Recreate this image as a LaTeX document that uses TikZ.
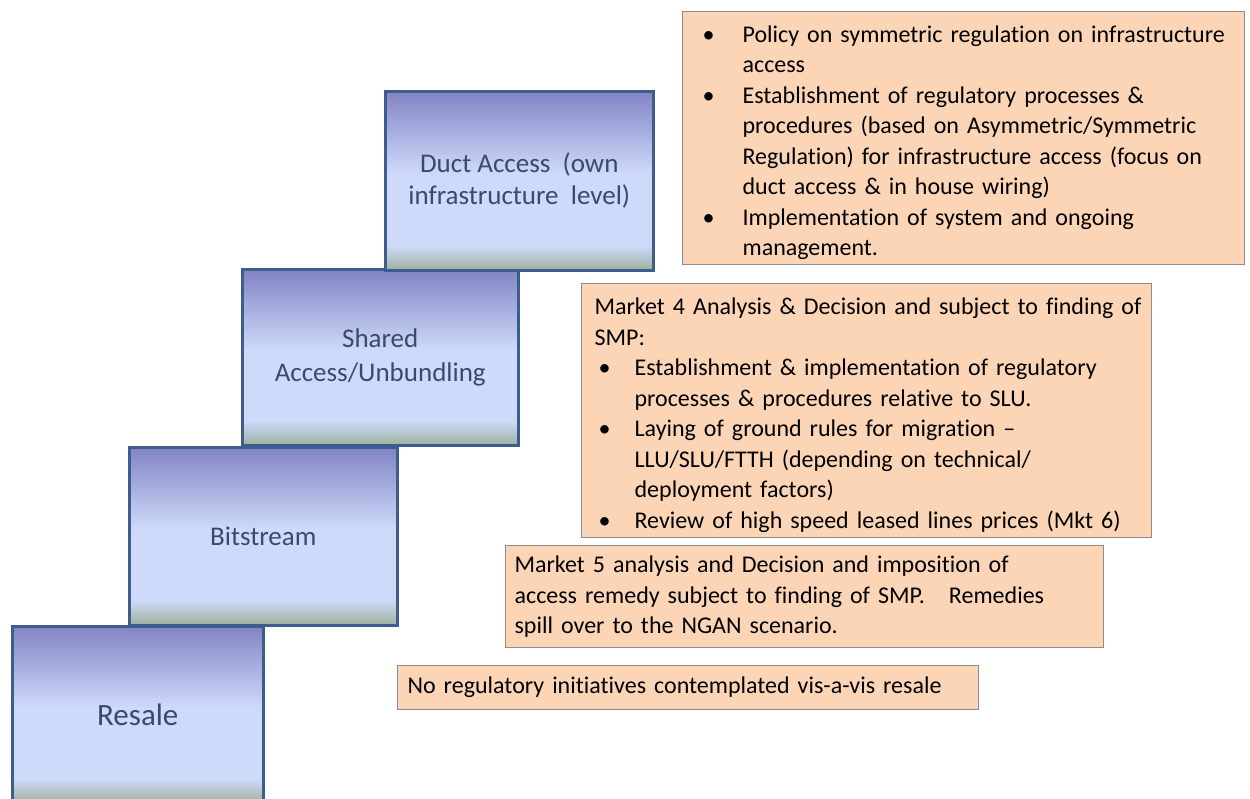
\documentclass[tikz,border=0pt]{standalone}
\usepackage{fontspec}
\setmainfont{Carlito}[Ligatures=NoCommon]
\usetikzlibrary{positioning}

\definecolor{stairtop}{RGB}{130,132,196}
\definecolor{stairmid}{RGB}{206,218,250}
\definecolor{stairbot}{RGB}{158,176,158}
\definecolor{stairedge}{RGB}{62,92,140}
\definecolor{stairtext}{RGB}{58,74,108}
\definecolor{notefill}{RGB}{251,213,182}
\definecolor{noteedge}{RGB}{140,140,140}

\pgfdeclareverticalshading{stairshade}{100bp}{color(0bp)=(stairbot); color(25bp)=(stairbot); color(32bp)=(stairmid); color(52bp)=(stairmid); color(75bp)=(stairtop); color(100bp)=(stairtop)}

% bullets and hanging indent of the two long notes
\newcommand{\bul}{\makebox[56pt][l]{\hspace{16pt}\textbullet}}
\newcommand{\ind}{\hspace*{56pt}}
\newcommand{\sbul}{\makebox[49pt][l]{\hspace{13pt}\textbullet}}
\newcommand{\sind}{\hspace*{49pt}}

\begin{document}
\begin{tikzpicture}[
            x=1pt, y=-1pt,
            stair/.style={draw=stairedge, line width=2.5pt, shading=stairshade,
                anchor=north west, inner sep=0pt, align=center, text=stairtext,
                font=\fontsize{27}{32}\selectfont},
            note/.style={draw=noteedge, line width=1.2pt, fill=notefill,
                anchor=north west, align=left, inner ysep=0pt, inner xsep=4pt,
                font=\fontsize{24}{30.5}\selectfont},
        ]
            \useasboundingbox (0,0) rectangle (1250,798);

            \node[stair, minimum width=251pt, minimum height=177pt,
                font=\fontsize{31}{36}\selectfont] (resale) at (11,625) {Resale};
            \node[stair, minimum width=268pt, minimum height=178pt] (bitstream) at (128,446) {Bitstream};
            \node[stair, minimum width=276pt, minimum height=176pt] (shared) at (241,268) {Shared\\[2pt]Access/Unbundling};
            \node[stair, minimum width=268pt, minimum height=179pt] (duct) at (384,90) {Duct Access\ \ (own\\infrastructure\ \ level)};

            \node[note, text width=554pt, text height=26pt, minimum height=253pt] (ductnote) at (682,11) {
                \bul Policy on symmetric regulation on infrastructure\\
                \ind access\\
                \bul Establishment of regulatory processes \&\\
                \ind procedures (based on Asymmetric/Symmetric\\
                \ind Regulation) for infrastructure access (focus on\\
                \ind duct access \& in house wiring)\\
                \bul Implementation of system and ongoing\\
                \ind management.};
            \node[note, text width=562pt, text height=26pt, minimum height=254pt] (sharednote) at (581,283) {
                \hspace*{9pt}Market 4 Analysis \& Decision and subject to finding of\\
                \hspace*{9pt}SMP:\\
                \sbul Establishment \& implementation of regulatory\\
                \sind processes \& procedures relative to SLU.\\
                \sbul Laying of ground rules for migration --\\
                \sind LLU/SLU/FTTH (depending on technical/\\
                \sind deployment factors)\\
                \sbul Review of high speed leased lines prices (Mkt 6)};
            \node[note, text width=580pt, inner xsep=9pt, minimum height=102pt] (bitnote) at (505,545) {
                Market 5 analysis and Decision and imposition of\\
                access remedy subject to finding of SMP.\ \ \ Remedies\\
                spill over to the NGAN scenario.};
            \node[note, text width=561pt, inner xsep=10pt, minimum height=44pt] (resalenote) at (397,665) {
                No regulatory initiatives contemplated vis-a-vis resale};
        \end{tikzpicture}
\end{document}
